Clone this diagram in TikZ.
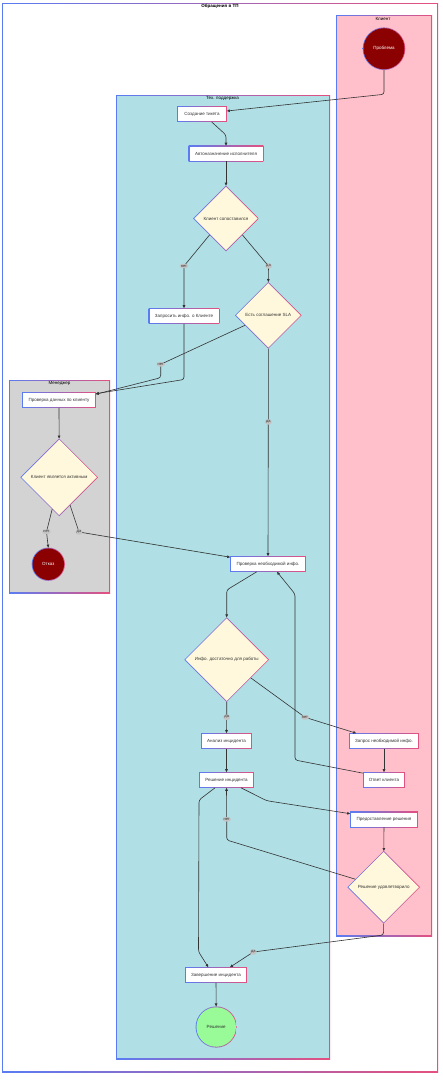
\documentclass[tikz,border=0pt]{standalone}
\usepackage{fontspec}
\setmainfont{Liberation Sans}
\usetikzlibrary{arrows.meta, shapes.geometric, calc}
\definecolor{gblue}{HTML}{5A7CF2}
\definecolor{gpink}{HTML}{E5507E}
\definecolor{laneclient}{HTML}{FFC0CB}
\definecolor{lanetech}{HTML}{B0DFE5}
\definecolor{lanemgr}{HTML}{D3D3D3}
\definecolor{decfill}{HTML}{FFF8DC}
\definecolor{stopfill}{HTML}{8B0000}
\definecolor{okfill}{HTML}{98FB98}
\definecolor{lblfill}{HTML}{C4C4C4}
\definecolor{txtgray}{HTML}{333333}
\pgfdeclarelayer{lanes}
\pgfdeclarelayer{frames}
\pgfsetlayers{lanes,frames,main}
\newcommand\nodefont{\fontsize{4.5}{5.4}\selectfont}
\newcommand\lblfont{\fontsize{4}{4.6}\selectfont}
\tikzset{
  gradline/.style = {left color=gblue, right color=gpink, draw=none},
  task/.style     = {rectangle, fill=white, text=txtgray, font=\nodefont,
                     minimum height=14, inner sep=1pt, outer sep=0.8pt},
  decision/.style = {diamond, fill=decfill, text=txtgray, font=\nodefont,
                     inner sep=0pt, outer sep=0.8pt},
  terminal/.style = {circle, text=txtgray, font=\nodefont, inner sep=0pt, outer sep=0.8pt},
  lanetitle/.style= {font=\nodefont, text=black, inner sep=0.5pt},
  lbl/.style      = {fill=lblfill, text=txtgray, font=\lblfont, inner sep=1.1pt},
  flow/.style     = {-{Triangle[length=3pt, width=2.6pt]}, line width=0.6pt,
                     draw=txtgray, rounded corners=2.5pt},
}

\begin{document}
\begin{tikzpicture}[x=1pt, y=-1pt]
  \useasboundingbox (0,0) rectangle (443,1080);
  % swimlanes
  \begin{pgfonlayer}{lanes}
    \foreach \xa/\ya/\xb/\yb/\col in {
      2/3/438/1072/white,
      336/15/432/936/laneclient,
      116/95/330/1059/lanetech,
      9/380/110/593/lanemgr}{
      \shade[gradline] (\xa,\ya) rectangle (\xb,\yb);
      \fill[\col] ({\xa+1},{\ya+1}) rectangle ({\xb-1},{\yb-1});
    }
  \end{pgfonlayer}
  \node[lanetitle, font=\nodefont\bfseries] (tall) at (220,6.5) {Обращения в ТП};
  \node[lanetitle] (tclient) at (383,18.5) {Клиент};
  \node[lanetitle] (ttech) at (222.5,98.5) {Тех. поддержка};
  \node[lanetitle] (tmgr) at (59.5,383.5) {Менеджер};

  % tasks
  \foreach \nm/\x/\y/\w/\txt in {
    ticket/202/114/48/{Создание тикета},
    auto/226/153.5/73/{Автоназначение исполнителя},
    reqinfo/184/316/69/{Запросить инфо. о Клиенте},
    checkclient/59/400/72/{Проверка данных по клиенту},
    checkinfo/268/564/74/{Проверка необходимой инфо.},
    analysis/226.5/741/49/{Анализ инцидента},
    reqmore/384/741/68/{Запрос необходимой инфо.},
    solve/226.5/780/53/{Решение инцидента},
    reply/384/780/40/{Ответ клиента},
    provide/384/819.5/66/{Предоставление решения},
    finish/216/975/60/{Завершение инцидента}}{
    \node[task, minimum width=\w] (\nm) at (\x,\y) {\txt};
  }
  % decisions
  \foreach \nm/\x/\y/\w/\txt in {
    match/226/218.5/64/{Клиент сопоставился},
    sla/268.3/315.3/65/{Есть соглашение SLA},
    active/59.2/477.3/76/{Клиент является активным},
    enough/226.7/659.7/83/{Инфо. достаточно для работы},
    satisfied/383.7/887.2/71/{Решение удовлетворило}}{
    \node[decision, minimum width=\w, minimum height=\w] (\nm) at (\x,\y) {\txt};
  }
  % start / end
  \node[terminal, fill=stopfill, text=white, minimum size=41] (prob) at (384,48.7) {Проблема};
  \node[terminal, fill=stopfill, text=white, minimum size=31.5] (reject) at (48.3,564.2) {Отказ};
  \node[terminal, fill=okfill, minimum size=39.5] (done) at (216.2,1027) {Решение};

  % gradient borders
  \begin{pgfonlayer}{frames}
    \foreach \n in {ticket,auto,reqinfo,checkclient,checkinfo,analysis,reqmore,solve,reply,provide,finish}{
      \shade[gradline] (\n.south west) rectangle (\n.north east);
    }
    \foreach \n in {match,sla,active,enough,satisfied}{
      \shade[gradline] (\n.north) -- (\n.east) -- (\n.south) -- (\n.west) -- cycle;
    }
    \foreach \n/\r in {prob/21.3,reject/16.6,done/20.6}{
      \shade[gradline] (\n.center) circle[radius=\r];
    }
  \end{pgfonlayer}

  % connectors
  \draw[flow] (prob.south) -- (384,94.3) -- ([yshift=3pt]ticket.east);
  \draw[flow] ([xshift=9.5pt]ticket.south) -- (226,135) -- (auto.north);
  \draw[flow] (auto) -- (match);
  \draw[flow] (match.south west) -- (184,266) node[lbl] (l1) {нет} -- (reqinfo.north);
  \draw[flow] (match.south east) -- (268.5,266) node[lbl] (l2) {да} -- (sla.north);
  \draw[flow] (reqinfo.south) -- (184,379.5) -- ([yshift=-1.5pt]checkclient.north east);
  \draw[flow] ($(sla.west)!0.3!(sla.south)$) -- (160.7,364.3) node[lbl] (l3) {нет}
    -- (160.7,377.7) -- ([yshift=-2pt]checkclient.north east);
  \draw[flow] (sla.south) -- (268.3,422) node[lbl] (l4) {да} -- (checkinfo.north);
  \draw[flow] (checkclient) -- (active);
  \draw[flow] ($(active.south)!0.18!(active.west)$) -- (46.5,531.7) node[lbl] (l5) {нет} -- (reject.north);
  \draw[flow] ($(active.south)!0.28!(active.east)$) -- (79,532) node[lbl] (l6) {да}
    -- ([yshift=-1pt]checkinfo.north west);
  \draw[flow] ([xshift=-11.3pt]checkinfo.south) -- (226.7,590) -- (enough.north);
  \draw[flow] (enough.south) -- (226.7,717.3) node[lbl] (l7) {да} -- (analysis.north);
  \draw[flow] ($(enough.south)!0.57!(enough.east)$) -- (305,717.3) node[lbl] (l8) {нет}
    -- ([xshift=7pt]reqmore.north west);
  \draw[flow] (reqmore) -- (reply);
  \draw[flow] ([yshift=-1pt]reply.north west) -- (295,760) -- (295,594) -- ([xshift=9pt]checkinfo.south);
  \draw[flow] (analysis) -- (solve);
  \draw[flow] ([xshift=14.5pt]solve.south) -- (266.7,800.7) -- ([yshift=-2pt]provide.north west);
  \draw[flow] (provide) -- (satisfied);
  \draw[flow] ($(satisfied.west)!0.22!(satisfied.north)$) -- (226.7,840)
    -- (226.7,819.3) node[lbl] (l9) {нет} -- (solve.south);
  \draw[flow] (satisfied.south) -- (383.5,935) -- (253.3,952) node[lbl] (l10) {да}
    -- ([xshift=14pt]finish.north);
  \draw[flow] ([xshift=-11.5pt]solve.south) -- (199,800) -- (198.5,951.7) -- ([xshift=-7.7pt]finish.north);
  \draw[flow] (finish) -- (done);
\end{tikzpicture}
\end{document}
